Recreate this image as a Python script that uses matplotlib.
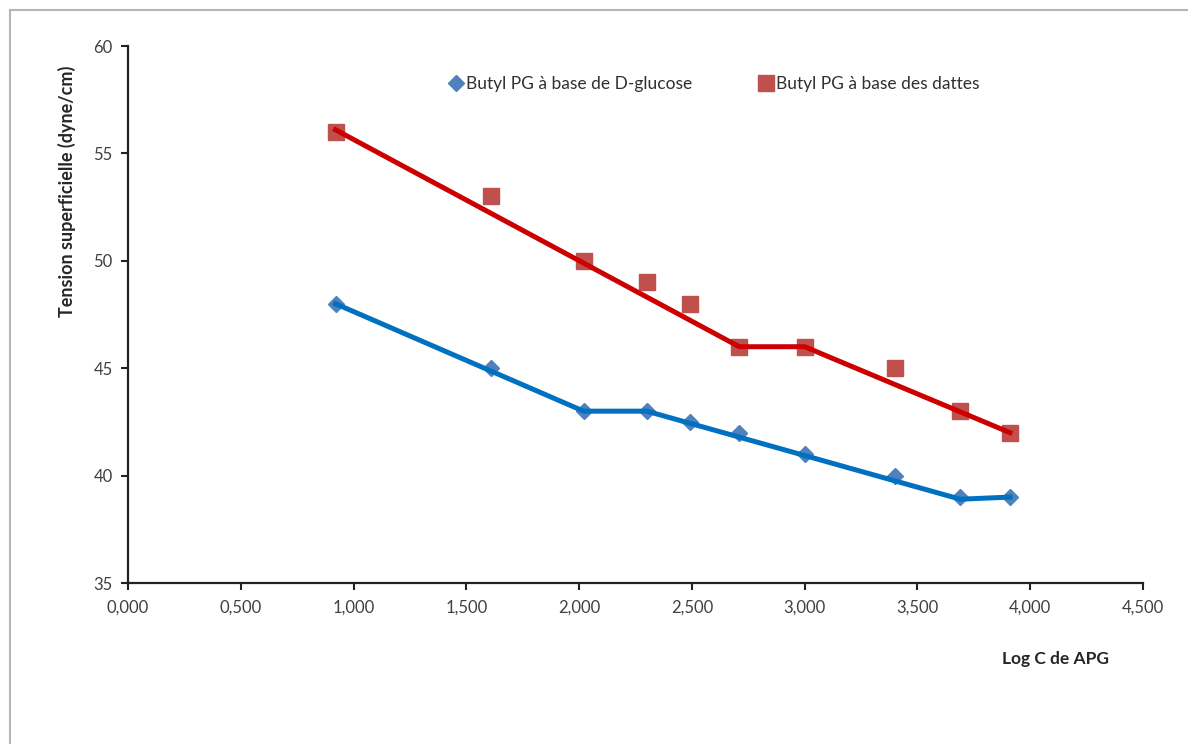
import matplotlib
matplotlib.use("Agg")
import matplotlib.pyplot as plt
from matplotlib.lines import Line2D
from matplotlib.ticker import FuncFormatter, MultipleLocator

plt.rcParams['font.family'] = ['Lato', 'DejaVu Sans']

# ---------------------- données ----------------------
log_c = [0.92, 1.61, 2.02, 2.30, 2.49, 2.71, 3.00, 3.40, 3.69, 3.91]
tension_glucose = [48, 45, 43, 43, 42.5, 42, 41, 40, 39, 39]
tension_dattes = [56, 53, 50, 49, 48, 46, 46, 45, 43, 42]

# courbes de tendance tracées à la main
trend_glucose_x = [0.92, 2.02, 2.30, 3.69, 3.91]
trend_glucose_y = [48, 43, 43, 38.9, 39]
trend_dattes_x = [0.92, 2.71, 3.00, 3.91]
trend_dattes_y = [56.1, 46, 46, 42]

labels = ["Butyl PG à base de D-glucose", "Butyl PG à base des dattes"]

# ---------------------- figure ----------------------
W, H = 1188, 744
fig = plt.figure(figsize=(W / 100, H / 100), dpi=100)
ax = fig.add_axes([128 / W, 1 - 583 / H, (1143 - 128) / W, (583 - 46) / H])

# cadre gris autour du graphique
fig.add_artist(Line2D([10 / W, 1], [1 - 10 / H] * 2, color="#b5b5b5", lw=1.5))
fig.add_artist(Line2D([10 / W] * 2, [0, 1 - 10 / H], color="#b5b5b5", lw=1.5))

ax.plot(log_c, tension_glucose, "D", color="#4f81bd", ms=8, zorder=2, label=labels[0])
ax.plot(log_c, tension_dattes, "s", color="#c0504d", ms=11, zorder=2, label=labels[1])
ax.plot(trend_glucose_x, trend_glucose_y, "-", color="#0070c0", lw=3.6, zorder=3)
ax.plot(trend_dattes_x, trend_dattes_y, "-", color="#cc0000", lw=3.6, zorder=3)

ax.set_xlim(0, 4.5)
ax.set_ylim(35, 60)
ax.xaxis.set_major_locator(MultipleLocator(0.5))
ax.yaxis.set_major_locator(MultipleLocator(5))
ax.xaxis.set_major_formatter(FuncFormatter(lambda v, p: f"{v:.3f}".replace(".", ",")))
ax.yaxis.set_major_formatter(FuncFormatter(lambda v, p: f"{v:.0f}"))

for s in ["top", "right"]:
    ax.spines[s].set_visible(False)
for s in ["left", "bottom"]:
    ax.spines[s].set_linewidth(1.6)
    ax.spines[s].set_color("#222222")
ax.tick_params(direction="out", length=5, width=1.5, color="#222222",
               labelsize=12, labelcolor="#404040")
ax.tick_params(axis="x", pad=7)
ax.tick_params(axis="y", pad=6)

# titres des axes
fig.text(67 / W, 1 - 191 / H, "Tension superficielle (dyne/cm)", rotation=90,
         fontsize=13, fontweight="bold", color="#262626", ha="center", va="center")
fig.text(1056 / W, 1 - 659 / H, "Log C de APG", fontsize=12.5, fontweight="bold",
         color="#262626", ha="center", va="center")

ax.legend(loc="center", bbox_to_anchor=(0.578, 0.929), ncol=2, frameon=False,
          fontsize=12.5, handlelength=0.7, handletextpad=0.25, columnspacing=3.9,
          labelcolor="#303030")

fig.savefig("out.png", dpi=100, facecolor="white")
